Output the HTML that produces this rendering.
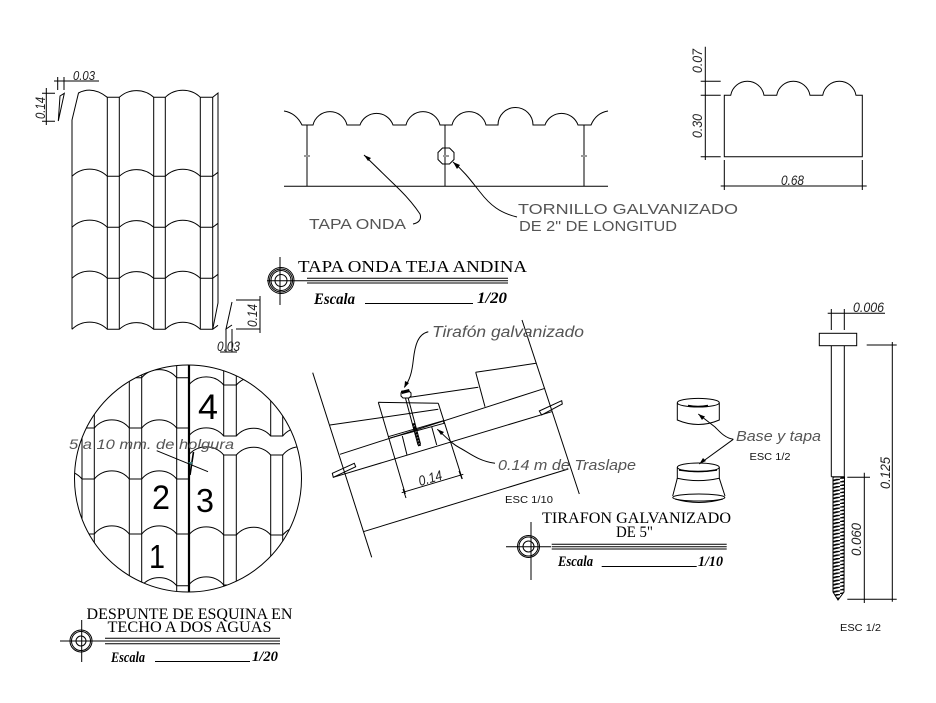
<!DOCTYPE html>
<html><head><meta charset="utf-8"><style>
html,body{margin:0;padding:0;background:#fff}
svg{display:block}
.l{fill:none;stroke:#000;stroke-width:1}
.t{font-family:"Liberation Serif",serif;fill:#000}
.s{font-family:"Liberation Serif",serif;font-weight:bold;font-style:italic;fill:#000}
.d{font-family:"Liberation Sans",sans-serif;font-style:italic;fill:#222}
.h{font-family:"Liberation Sans",sans-serif;fill:#555}
.hi{font-family:"Liberation Sans",sans-serif;font-style:italic;fill:#555}
.e{font-family:"Liberation Sans",sans-serif;fill:#111}
.n{font-family:"Liberation Sans",sans-serif;fill:#000}
</style></head><body>
<svg width="936" height="703" viewBox="0 0 936 703" xmlns="http://www.w3.org/2000/svg">
<defs>
<path id="w" d="M72,0 A25.4,25.4 0 0 1 107.3,0 H119.3 A25.4,25.4 0 0 1 153.7,0 H165.3 A25.4,25.4 0 0 1 200.3,0 H212.7 L218,-4"/>
<path id="wl" d="M47,0 A23,23 0 0 1 82,0 H94.3 A23,23 0 0 1 129.3,0 H141.7 A23,23 0 0 1 176.7,0 H188.7"/>
<path id="wr" d="M188.7,0 A23,23 0 0 1 223.7,0 H236.3 A23,23 0 0 1 270.7,0 H282.7 A23,23 0 0 1 318,0"/>
<clipPath id="cc"><circle cx="188" cy="478.5" r="113.5"/></clipPath>
<pattern id="thr" patternUnits="userSpaceOnUse" width="14" height="3.6"><path d="M0,3.6 L14,0" stroke="#000" stroke-width="1.7" fill="none"/><path d="M-3,4.3 L3,2.8 M11,0.8 L17,-0.7" stroke="#000" stroke-width="1.7" fill="none"/></pattern>
</defs>

<!-- tile panel -->
<g class="l">
<path d="M72,329.3 V120 L78.5,93 C88,88 98,90 107.3,97.3 H119.3 A25.4,25.4 0 0 1 153.7,97.3 H165.3 A25.4,25.4 0 0 1 200.3,97.3 H212.7 L218,93 V303 L212.7,329.3"/>
<path d="M107.3,97.3 V329.3 M119.3,97.3 V329.3 M153.7,97.3 V329.3 M165.3,97.3 V329.3 M200.3,97.3 V329.3 M212.7,97.3 V329.3"/>
<use href="#w" y="176.3"/><use href="#w" y="227.3"/><use href="#w" y="278.3"/><use href="#w" y="329.3"/>
<!-- top dims -->
<path d="M54,81 H99 M57.7,77 V90 M64,77 V90 M64.3,93.3 L60,96 L58.3,121 Z"/>
<path d="M46.3,88 V125 M42,93.3 H55 M42,121.3 H55"/>
<!-- bottom dims -->
<path d="M232,302 L226,329 L232,325 M236,300 H260 M236,329 H260 M260,296 V333 M226,329 V352 M232,329 V352 M220,352 H237"/>
</g>
<text class="d" x="73" y="80" font-size="13" textLength="22" lengthAdjust="spacingAndGlyphs">0.03</text>
<text class="d" transform="translate(45,119) rotate(-90)" font-size="14" textLength="22" lengthAdjust="spacingAndGlyphs">0.14</text>
<text class="d" transform="translate(257,327) rotate(-90)" font-size="14" textLength="23" lengthAdjust="spacingAndGlyphs">0.14</text>
<text class="d" x="217" y="351" font-size="14" textLength="23" lengthAdjust="spacingAndGlyphs">0.03</text>

<!-- tapa onda section -->
<g class="l">
<path d="M284,111 Q296,113 302,125 H313 A17.5,17.5 0 0 1 347,125 H360 A17.5,17.5 0 0 1 393,125 H406 A17.5,17.5 0 0 1 440,125 H452 A17.5,17.5 0 0 1 486,125 H498 A17.5,17.5 0 0 1 533,125 H545 A17.5,17.5 0 0 1 578,125 H591 Q596,113 608,111"/>
<path d="M307,125 V186 M445,125 V186 M584,125 V186 M284,186.3 H608"/>
<path d="M442.5,148 H449.5 L454,152.5 V159.5 L449.5,164 H442.5 L438,159.5 V152.5 Z"/>
<path d="M364,155 L400,190 C410,200 416,208 420,214 C422,220 418,223 413,224"/>
<path d="M453,162 C465,172 472,182 480,192 C490,205 500,213 517,217"/>
</g>
<path d="M304,156 H310 M443,156 H449 M581,156 H587" stroke="#999" stroke-width="2" fill="none"/>
<path d="M364,155 L371,158 L368,161 Z M453,162 L460,165 L457,169 Z" fill="#000"/>
<text class="h" x="309" y="229" font-size="15" textLength="97" lengthAdjust="spacingAndGlyphs">TAPA ONDA</text>
<text class="h" x="518" y="214" font-size="15" textLength="220" lengthAdjust="spacingAndGlyphs">TORNILLO GALVANIZADO</text>
<text class="h" x="519" y="231" font-size="15" textLength="158" lengthAdjust="spacingAndGlyphs">DE 2" DE LONGITUD</text>

<!-- title 1 -->
<g class="l">
<circle cx="281" cy="280.5" r="13"/><circle cx="281" cy="280.5" r="11.5"/><circle cx="281" cy="280.5" r="10"/><circle cx="281" cy="280.5" r="6"/>
<path d="M280,257 V305 M267,280.7 H508 M307,278.3 H508 M307,283 H508 M365,303.5 H473"/>
</g>
<text class="t" x="298" y="272" font-size="17" textLength="229" lengthAdjust="spacingAndGlyphs">TAPA ONDA TEJA ANDINA</text>
<text class="s" x="314" y="304" font-size="16" textLength="41" lengthAdjust="spacingAndGlyphs">Escala</text>
<text class="s" x="477" y="303" font-size="16" textLength="30" lengthAdjust="spacingAndGlyphs">1/20</text>

<!-- top right profile -->
<g class="l">
<path d="M724.3,156.7 V95.3 H730.7 A16.9,16.9 0 0 1 764,95.3 H776.7 A16.9,16.9 0 0 1 810,95.3 H822.7 A16.9,16.9 0 0 1 856,95.3 H862.3 V156.7 Z"/>
<path d="M705.3,46.7 V160 M700.7,81.3 H720.7 M700.7,95.3 H720.7 M700.7,156.7 H720.7"/>
<path d="M720.7,186 H866.7 M724.3,160 V190 M862.3,160 V190"/>
</g>
<text class="d" transform="translate(702,73) rotate(-90)" font-size="14" textLength="24" lengthAdjust="spacingAndGlyphs">0.07</text>
<text class="d" transform="translate(702,138) rotate(-90)" font-size="14" textLength="24" lengthAdjust="spacingAndGlyphs">0.30</text>
<text class="d" x="781" y="185" font-size="14" textLength="23" lengthAdjust="spacingAndGlyphs">0.68</text>

<!-- circle detail -->
<g clip-path="url(#cc)" class="l">
<path d="M82,365 V600 M94.3,365 V600 M129.3,365 V600 M141.7,365 V600 M176.7,365 V600"/>
<use href="#wl" y="377.7"/><use href="#wl" y="428"/><use href="#wl" y="479"/><use href="#wl" y="534"/><use href="#wl" y="585.7"/>
<path d="M223.7,365 V436 M236.3,365 V436 M270.7,365 V436 M282.7,365 V436 M223.7,455 V600 M236.3,455 V600 M270.7,455 V600 M282.7,455 V600"/>
<use href="#wr" y="385"/><use href="#wr" y="436"/><use href="#wr" y="455"/><use href="#wr" y="535"/><use href="#wr" y="585"/>
</g>
<circle class="l" cx="188" cy="478.5" r="113.5"/>
<path d="M189,365 V592" stroke="#000" stroke-width="2.2" fill="none"/>
<path d="M190,475 L193.5,452" stroke="#000" stroke-width="1.6" fill="none"/>
<path class="l" d="M156.7,450.7 L208,471.7"/>
<path d="M188,462 H193 L191,465 Z" fill="#37787a"/>
<text class="n" x="198" y="419" font-size="35" textLength="20" lengthAdjust="spacingAndGlyphs">4</text>
<text class="n" x="152" y="509" font-size="34" textLength="18" lengthAdjust="spacingAndGlyphs">2</text>
<text class="n" x="196" y="512" font-size="33" textLength="18" lengthAdjust="spacingAndGlyphs">3</text>
<text class="n" x="149" y="568" font-size="33" textLength="16" lengthAdjust="spacingAndGlyphs">1</text>
<text class="hi" x="69" y="449" font-size="14" textLength="165" lengthAdjust="spacingAndGlyphs">5 a 10 mm. de holgura</text>

<!-- title 3 -->
<g class="l">
<circle cx="81" cy="641" r="11"/><circle cx="81" cy="641" r="9.5"/><circle cx="81" cy="641" r="5"/>
<path d="M81.7,620 V662 M60,641 H105 M105,638.3 H280 M105,641 H280 M105,643.7 H280 M155,661.5 H250"/>
</g>
<text class="t" x="86.5" y="619" font-size="15.5" textLength="206" lengthAdjust="spacingAndGlyphs">DESPUNTE DE ESQUINA EN</text>
<text class="t" x="107.5" y="632" font-size="15.5" textLength="164" lengthAdjust="spacingAndGlyphs">TECHO A DOS AGUAS</text>
<text class="s" x="111" y="662" font-size="15" textLength="34" lengthAdjust="spacingAndGlyphs">Escala</text>
<text class="s" x="252" y="661" font-size="15" textLength="26" lengthAdjust="spacingAndGlyphs">1/20</text>

<!-- centre section -->
<g class="l">
<path d="M312.7,372.7 L371.7,557.3 M522,320 L579.3,494"/>
<path d="M378.3,402.3 L438.3,403.3 M378.3,402.3 L405.3,494 M438.3,403.3 L462.3,479"/>
<path d="M330,425 L438.3,409.3 M410,397.3 L478.3,387.3"/>
<path d="M475.7,372.3 L536,363.3 M475.7,372.3 L485,406.7"/>
<path d="M340,454.3 L545,388.3"/>
<path d="M333.3,477.3 L551.7,411.7"/>
<path d="M539.3,411 L561.7,400.7 L562.3,404 L541.7,415 Z"/>
<path d="M332.3,473.3 L354.3,463.3 L355.7,466.7 L333.3,477.3 Z"/>
<path d="M388.3,436.7 L443.3,420.7 L444,423.3 L390,438"/>
<path d="M363.3,531.7 L568.3,469"/>
<path d="M402.3,436 L407,455 M431.7,426.7 L436.7,445"/>
<path d="M401.7,492.7 L463.3,474.3 M403,489 L406,498 M459,471 L462,479"/>
<path d="M405.5,398.3 L418,445 M408,397.5 L420.5,444"/>
<path d="M428.3,331.7 C418,334 415,345 413.3,360 C412,372 410,380 404.3,387.3"/>
<path d="M437.3,429.3 C446,437 452,444 460,448 C468,452 478,461 495,463.3"/>
<path d="M402,391 H409 L411,393 V396 L409,398 H403 L401,396 V393 Z"/>
</g>
<path d="M413.3,423.3 L419.6,446" stroke="#000" stroke-width="3" stroke-dasharray="2.5 .6" fill="none"/>
<path d="M404.3,388 L405,381 L409,383 Z M437.3,429.3 L444,432 L441,435 Z" fill="#000"/>
<path d="M401,391 L409,389 L410,392 L402,394Z" fill="#000"/>
<text class="d" transform="translate(420,486) rotate(-16)" font-size="14" textLength="24" lengthAdjust="spacingAndGlyphs">0.14</text>
<text class="hi" x="432" y="337" font-size="15.5" textLength="152" lengthAdjust="spacingAndGlyphs">Tirafón galvanizado</text>
<text class="hi" x="498" y="470" font-size="15" textLength="138" lengthAdjust="spacingAndGlyphs">0.14 m de Traslape</text>
<text class="e" x="505" y="503" font-size="10.5" textLength="48" lengthAdjust="spacingAndGlyphs">ESC 1/10</text>

<!-- title 2 -->
<g class="l">
<circle cx="528.5" cy="546.5" r="11"/><circle cx="528.5" cy="546.5" r="9.5"/><circle cx="528.5" cy="546.5" r="5.5"/>
<path d="M531,522 V580 M506,546.7 H551 M551.7,544.3 H726.7 M551.7,546.7 H726.7 M551.7,549 H726.7 M601.7,566.5 H696.7"/>
</g>
<text class="t" x="542" y="523" font-size="15.5" textLength="189" lengthAdjust="spacingAndGlyphs">TIRAFON GALVANIZADO</text>
<text class="t" x="616" y="537" font-size="15.5" textLength="37" lengthAdjust="spacingAndGlyphs">DE 5"</text>
<text class="s" x="558" y="566" font-size="15" textLength="35" lengthAdjust="spacingAndGlyphs">Escala</text>
<text class="s" x="698" y="566" font-size="15" textLength="25" lengthAdjust="spacingAndGlyphs">1/10</text>

<!-- cups -->
<g class="l">
<ellipse cx="698.3" cy="402.7" rx="21" ry="4.3"/>
<path d="M677.3,402.7 V420 Q698.3,429 719.3,420 V402.7"/>
<ellipse cx="698.3" cy="467.3" rx="21" ry="4.3"/>
<path d="M677.3,467.3 V478.3 Q698.3,483 719.3,478.3 V467.3"/>
<path d="M677.3,478.3 L672.7,496 M719.3,478.3 L725,496"/>
<ellipse cx="698.8" cy="497.5" rx="26" ry="3.5"/>
<path d="M675,499 Q698.8,506 723,499"/>
<path d="M733.3,439.3 C725,438 720,432 715,427 L698.3,414"/>
<path d="M733.3,439.3 L699.3,464"/>
</g>
<path d="M688,405.5 Q698,407.5 708,405.5" stroke="#000" stroke-width="1.6" fill="none"/>
<path d="M679,470 Q698,473 717,470" stroke="#000" stroke-width="1.6" fill="none"/>
<path d="M698.3,414 L705,416.5 L702,420 Z M699.3,464 L703,458 L706,461 Z" fill="#000"/>
<text class="hi" x="736" y="441" font-size="14.5" textLength="85" lengthAdjust="spacingAndGlyphs">Base y tapa</text>
<text class="e" x="749.5" y="460" font-size="10.5" textLength="41" lengthAdjust="spacingAndGlyphs">ESC 1/2</text>

<!-- screw -->
<g class="l">
<rect x="819.3" y="333.3" width="37.4" height="12.4"/>
<path d="M831.3,345.7 V476.7 M844.3,345.7 V476.7 M831.3,476.7 H844.3"/>
<path d="M827.7,313.3 H885 M831.3,309 V330 M844.3,309 V330"/>
<path d="M892.3,342 V601.7 M866.7,345 H896.7 M847.3,599.3 H896.7"/>
<path d="M864.3,472.7 V603 M847.3,477.3 H870"/>
</g>
<path d="M833,477 H844.5 L844,592 L838,600 L833,592 Z" fill="url(#thr)" stroke="#000" stroke-width="1"/>
<text class="d" x="853" y="312" font-size="13.5" textLength="31" lengthAdjust="spacingAndGlyphs">0.006</text>
<text class="d" transform="translate(890,489) rotate(-90)" font-size="14" textLength="32" lengthAdjust="spacingAndGlyphs">0.125</text>
<text class="d" transform="translate(861,556) rotate(-90)" font-size="14" textLength="33" lengthAdjust="spacingAndGlyphs">0.060</text>
<text class="e" x="840" y="631" font-size="10.5" textLength="41" lengthAdjust="spacingAndGlyphs">ESC 1/2</text>
</svg>
</body></html>
